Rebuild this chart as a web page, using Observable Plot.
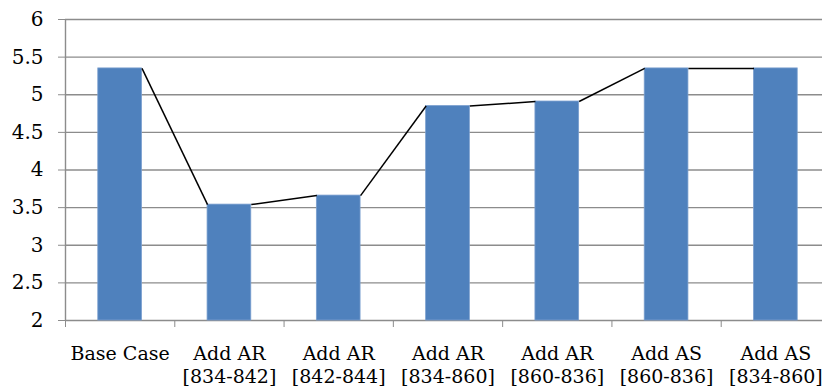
<!DOCTYPE html>
<html>
<head>
<meta charset="utf-8">
<script src="https://cdn.jsdelivr.net/npm/d3@7"></script>
<script src="https://cdn.jsdelivr.net/npm/@observablehq/plot@0.6"></script>
<style>
  html, body { margin: 0; padding: 0; background: #fff; }
</style>
</head>
<body>
<div id="chart"></div>
<script>
const categories = [
  "Base Case",
  "Add AR\n[834-842]",
  "Add AR\n[842-844]",
  "Add AR\n[834-860]",
  "Add AR\n[860-836]",
  "Add AS\n[860-836]",
  "Add AS\n[834-860]"
];
const values = [5.35, 3.54, 3.66, 4.85, 4.91, 5.35, 5.35];
const yTicks = [2, 2.5, 3, 3.5, 4, 4.5, 5, 5.5, 6];
const yTickLabels = ["2", "2.5", "3", "3.5", "4", "4.5", "5", "5.5", "6"];

const rows = categories.map((c, i) => ({i, c, v: values[i]}));
const pairs = rows.slice(0, -1).map((r, k) => ({a: r, b: rows[k + 1]}));
const boundaries = d3.range(0, categories.length + 1);

const barHalf = 0.2;
const grid = "#8c8c8c";
const FONT = "DejaVu Serif";

const chart = Plot.plot({
  width: 822,
  height: 388,
  marginLeft: 65,
  marginRight: 0,
  marginTop: 19,
  marginBottom: 68,
  style: {background: "#fff", color: "#000", fontFamily: FONT, fontSize: "20px"},
  x: {
    type: "linear",
    domain: [0, categories.length],
    range: [65, 830],
    ticks: boundaries,
    tickSize: 7,
    tickFormat: () => "",
    label: null
  },
  y: {
    domain: [2, 6],
    ticks: yTicks,
    tickSize: 7,
    tickPadding: 15,
    tickFormat: d => yTickLabels[yTicks.indexOf(d)],
    label: null
  },
  marks: [
    Plot.ruleY(yTicks, {stroke: grid, strokeWidth: 1.4}),
    Plot.ruleX([0], {stroke: grid, strokeWidth: 1.4}),
    Plot.rect(rows, {
      x1: d => d.i + 0.5 - barHalf,
      x2: d => d.i + 0.5 + barHalf,
      y1: 2,
      y2: d => d.v,
      fill: "#4F81BD",
      stroke: "#7a9fcf",
      strokeWidth: 0.8
    }),
    Plot.link(pairs, {
      x1: d => d.a.i + 0.5 + barHalf,
      y1: d => d.a.v,
      x2: d => d.b.i + 0.5 - barHalf,
      y2: d => d.b.v,
      stroke: "#000",
      strokeWidth: 1.5
    }),
    Plot.text(rows, {
      x: d => d.i + 0.5,
      y: 2,
      text: d => d.c,
      lineAnchor: "top",
      dy: 22,
      lineHeight: 1.26,
      fill: "#000",
      fontSize: 19,
      fontFamily: FONT
    })
  ]
});
chart.querySelectorAll("[aria-label='x-axis'] path, [aria-label='y-axis'] path, g[aria-label$='tick'] path").forEach(p => p.setAttribute("stroke", grid));
document.getElementById("chart").appendChild(chart);
</script>
</body>
</html>
